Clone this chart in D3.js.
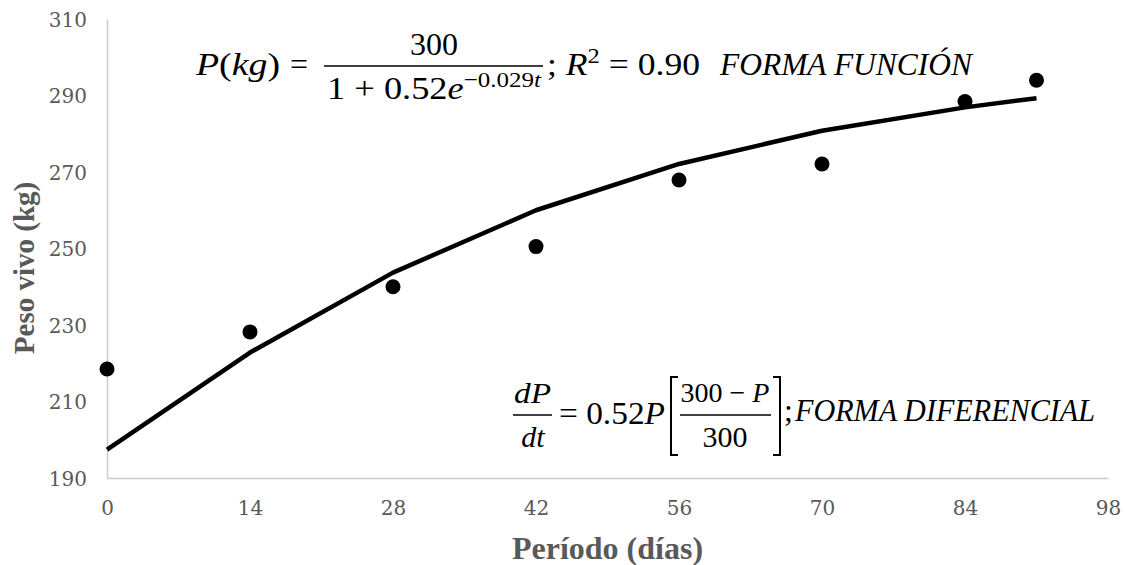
<!DOCTYPE html>
<html>
<head>
<meta charset="utf-8">
<script src="https://cdn.jsdelivr.net/npm/d3@7"></script>
<style>
  html, body { margin: 0; padding: 0; background: #fff; }
  .tick text { font-family: "DejaVu Serif", serif; font-size: 20px; fill: #595959; }
  .titulo { font-family: "Liberation Serif", serif; font-weight: bold; fill: #595959; }
  .mate { font-family: "Liberation Serif", serif; font-size: 32px; fill: #000; }
</style>
</head>
<body>
<div id="grafico"></div>
<script>
// Datos
var dias = [0, 14, 28, 42, 56, 70, 84, 91];
var pesoObservado = [218.5, 228.2, 240.0, 250.5, 267.9, 272.1, 288.4, 294.0];
var pesoAjustado = [197.4, 222.8, 243.7, 260.0, 272.1, 280.8, 286.9, 289.3];
var ticksX = [0, 14, 28, 42, 56, 70, 84, 98];
var ticksY = [190, 210, 230, 250, 270, 290, 310];

var width = 1127, height = 565,
    margin = {top: 19, right: 19, bottom: 87, left: 107},
    w = width - margin.left - margin.right,
    h = height - margin.top - margin.bottom;

var svg = d3.select("#grafico").append("svg")
    .attr("width", width)
    .attr("height", height);

var g = svg.append("g")
    .attr("transform", "translate(" + margin.left + "," + margin.top + ")");

var x = d3.scaleLinear().domain([0, 98]).range([0, w]);
var y = d3.scaleLinear().domain([190, 310]).range([h, 0]);

// Ejes
var ejeX = g.append("g")
    .attr("transform", "translate(0," + h + ")")
    .call(d3.axisBottom(x).tickValues(ticksX).tickSize(0).tickPadding(23));
var ejeY = g.append("g")
    .call(d3.axisLeft(y).tickValues(ticksY).tickSize(0).tickPadding(20));

[ejeX, ejeY].forEach(function(e) {
  e.select(".domain").attr("stroke", "#c9c9c9").attr("stroke-width", 1.5);
});
ejeY.selectAll(".tick text").attr("dy", "0.35em");

// Curva ajustada
var linea = d3.line()
    .x(function(d, i) { return x(dias[i]); })
    .y(function(d) { return y(d); });

g.append("path")
    .datum(pesoAjustado)
    .attr("fill", "none")
    .attr("stroke", "#000")
    .attr("stroke-width", 4.5)
    .attr("stroke-linejoin", "round")
    .attr("d", linea);

// Puntos observados
g.selectAll(".punto")
    .data(pesoObservado)
  .enter().append("circle")
    .attr("class", "punto")
    .attr("cx", function(d, i) { return x(dias[i]); })
    .attr("cy", function(d) { return y(d); })
    .attr("r", 7.5)
    .attr("fill", "#000");

// Títulos de ejes
svg.append("text")
    .attr("class", "titulo")
    .style("font-size", "29px")
    .attr("text-anchor", "middle")
    .attr("transform", "translate(34,268) rotate(-90)")
    .text("Peso vivo (kg)");

svg.append("text")
    .attr("class", "titulo")
    .style("font-size", "32px")
    .attr("text-anchor", "middle")
    .attr("x", margin.left + w / 2)
    .attr("y", 559)
    .text("Período (días)");

// Fórmulas
function texto(partes, xPos, yPos, anchor, size) {
  var t = svg.append("text").attr("class", "mate")
      .attr("x", xPos).attr("y", yPos)
      .attr("text-anchor", anchor || "start");
  if (size) t.style("font-size", size + "px");
  partes.forEach(function(p) {
    var s = t.append("tspan").text(p[0]);
    if (p[1] == "i") s.style("font-style", "italic");
    if (p[2]) s.attr("dy", p[2]);
    if (p[3]) s.style("font-size", p[3] + "px");
  });
  return t;
}
function ajustar(t, largo) {
  return t.attr("textLength", largo).attr("lengthAdjust", "spacingAndGlyphs");
}
function barra(x1, x2, yPos) {
  svg.append("line").attr("x1", x1).attr("x2", x2)
      .attr("y1", yPos).attr("y2", yPos)
      .attr("stroke", "#000").attr("stroke-width", 1.6);
}

// Forma función
ajustar(texto([["P", "i"], ["("], ["kg", "i"], [")"]], 196, 75), 84);
texto([["="]], 290, 75);
barra(324, 543, 66);
texto([["300"]], 434, 55, "middle");
ajustar(texto([["1 + 0.52"], ["e", "i"], ["−0.029", "", -12, 22], ["t", "i", 0, 22]], 434, 99, "middle"), 214);
ajustar(texto([["; "], ["R", "i"], ["2", "", -12, 22], [" = 0.90", "", 12]], 547, 75), 153);
ajustar(texto([["FORMA FUNCIÓN", "i"]], 720, 75), 252);

// Forma diferencial
barra(513, 552, 415);
ajustar(texto([["dP", "i"]], 514, 403, "start", 30), 37);
texto([["dt", "i"]], 533, 447, "middle", 30);
ajustar(texto([["= 0.52"], ["P", "i"]], 559, 424), 106);
svg.append("path")
    .attr("d", "M678,377 L671,377 L671,455 L678,455 M773,377 L780,377 L780,455 L773,455")
    .attr("fill", "none").attr("stroke", "#000").attr("stroke-width", 2);
barra(680, 771, 415);
texto([["300 − "], ["P", "i"]], 725, 402, "middle", 28);
texto([["300"]], 725, 447, "middle", 30);
texto([[";"]], 784, 421);
ajustar(texto([["FORMA DIFERENCIAL", "i"]], 795, 421), 300);
</script>
</body>
</html>
